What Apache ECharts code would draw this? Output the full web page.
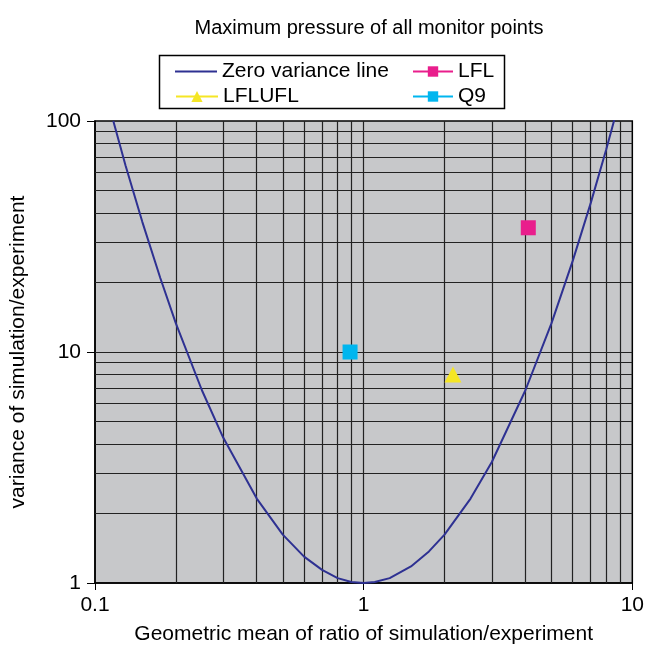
<!DOCTYPE html>
<html><head><meta charset="utf-8">
<script src="https://cdn.jsdelivr.net/npm/echarts@6/dist/echarts.min.js"></script>
<style>html,body{margin:0;padding:0;background:#fff}#c{width:647px;height:650px}</style>
</head><body><div id="c"></div>
<script>
var zeroX = [0.117, 0.13, 0.15, 0.175, 0.2, 0.25, 0.3, 0.4, 0.5, 0.6, 0.7, 0.8, 0.9, 1, 1.1, 1.25, 1.5, 1.75, 2, 2.5, 3, 4, 5, 6, 7, 8, 8.7];
var zeroY = [100, 64, 36.6, 20.9, 13.3, 6.83, 4.26, 2.32, 1.62, 1.30, 1.14, 1.05, 1.01, 1, 1.01, 1.05, 1.18, 1.37, 1.62, 2.32, 3.34, 6.83, 13.3, 24.8, 44.1, 75.5, 108];
var lflPoint = [4.1, 34.5];
var lfluflPoint = [2.15, 8.0];
var q9Point = [0.89, 10.0];
var xGrid = [0.2,0.3,0.4,0.5,0.6,0.7,0.8,0.9,1,2,3,4,5,6,7,8,9];
var yGrid = [2,3,4,5,6,7,8,9,10,20,30,40,50,60,70,80,90];

var font = '"Liberation Sans", Arial, sans-serif';
var chart = echarts.init(document.getElementById('c'));
var zeroData = zeroX.map(function(x,i){return [x, zeroY[i]];});
var gridLines = xGrid.map(function(v){return {xAxis:v};}).concat(yGrid.map(function(v){return {yAxis:v};}));
var legText = {fontFamily:font, fontSize:21, color:'#000'};

chart.setOption({
  backgroundColor:'#fff',
  animation:false,
  title:{text:'Maximum pressure of all monitor points', left:364, top:13, textAlign:'center',
    textStyle:{fontFamily:font, fontSize:20, fontWeight:'normal', color:'#000'}},
  legend:[
    {data:[{name:'Zero variance line', icon:'rect'}], left:170, top:56, itemWidth:42, itemHeight:2, textStyle:legText},
    {data:['LFLUFL'], left:170, top:81, itemWidth:42, itemHeight:14, textStyle:legText},
    {data:['LFL'], left:407, top:56, itemWidth:40, itemHeight:13, textStyle:legText},
    {data:['Q9'], left:407, top:81, itemWidth:40, itemHeight:13, textStyle:legText}
  ],
  graphic:[{type:'rect', left:157, top:53, shape:{width:345, height:53}, style:{fill:'none', stroke:'#000', lineWidth:1.5}, z:-1}],
  grid:{left:95, right:14, top:121, bottom:64, show:true, backgroundColor:'#c7c8ca', borderColor:'#000', borderWidth:1.5},
  xAxis:{type:'log', logBase:10, min:0.1, max:10,
    name:'Geometric mean of ratio of simulation/experiment', nameLocation:'middle', nameGap:41,
    nameTextStyle:{fontFamily:font, fontSize:21, color:'#000'},
    axisLine:{show:true, lineStyle:{color:'#000', width:1.5}},
    axisTick:{show:true, length:7, lineStyle:{color:'#000'}},
    axisLabel:{fontFamily:font, fontSize:21, color:'#000', margin:12},
    splitLine:{show:false}},
  yAxis:{type:'log', logBase:10, min:1, max:100,
    name:'variance of simulation/experiment', nameLocation:'middle', nameGap:66,
    nameTextStyle:{fontFamily:font, fontSize:21, color:'#000'},
    axisLine:{show:true, lineStyle:{color:'#000', width:1.5}},
    axisTick:{show:true, length:8, lineStyle:{color:'#000'}},
    axisLabel:{fontFamily:font, fontSize:21, color:'#000', margin:14},
    splitLine:{show:false}},
  series:[
    {name:'grid', type:'line', data:[], silent:true,
     markLine:{silent:true, symbol:['none','none'], label:{show:false}, animation:false,
       lineStyle:{color:'#222', width:1.2, type:'solid'}, data:gridLines}},
    {name:'Zero variance line', type:'line', data:zeroData, symbol:'none', smooth:false, z:5,
     lineStyle:{color:'#2e3192', width:2}, itemStyle:{color:'#2e3192'}},
    {name:'LFL', type:'line', data:[lflPoint], symbol:'rect', symbolSize:15, z:6,
     lineStyle:{color:'#e91e8c', width:2}, itemStyle:{color:'#e91e8c'}},
    {name:'LFLUFL', type:'line', data:[lfluflPoint], symbol:'triangle', symbolSize:[17,16], z:6,
     lineStyle:{color:'#f5e625', width:2}, itemStyle:{color:'#f5e625'}},
    {name:'Q9', type:'line', data:[q9Point], symbol:'rect', symbolSize:15, z:6,
     lineStyle:{color:'#00b6ef', width:2}, itemStyle:{color:'#00b6ef'}}
  ]
});
</script></body></html>
